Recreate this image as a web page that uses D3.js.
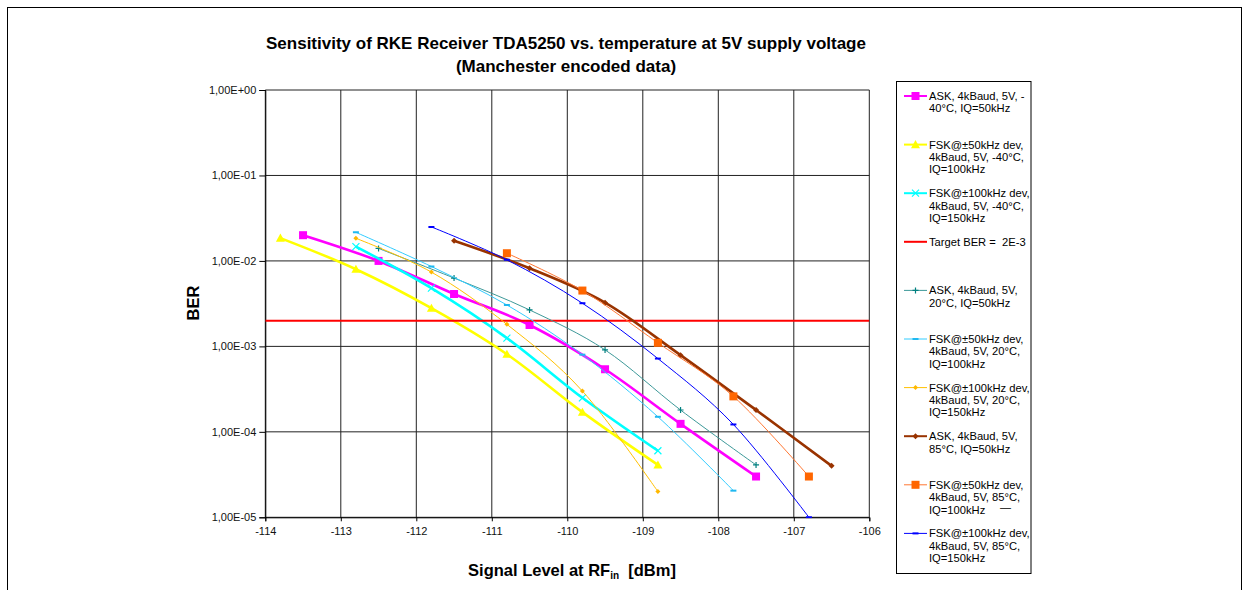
<!DOCTYPE html>
<html>
<head>
<meta charset="utf-8">
<script src="https://cdn.jsdelivr.net/npm/d3@7"></script>
<style>
  html, body { margin: 0; padding: 0; background: #fff; }
  svg { display: block; font-family: Arial, "Liberation Sans", sans-serif; }
  text { white-space: pre; }
</style>
</head>
<body>
<svg id="chart" width="1243" height="590"></svg>
<script>
// ---------- data ----------
const xTicks = [-114, -113, -112, -111, -110, -109, -108, -107, -106];
const yTicks = [1, 1e-1, 1e-2, 1e-3, 1e-4, 1e-5];
const yTickLabels = ["1,00E+00", "1,00E-01", "1,00E-02", "1,00E-03", "1,00E-04", "1,00E-05"];

const sigAskM40 = [-113.5, -112.5, -111.5, -110.5, -109.5, -108.5, -107.5];
const berAskM40 = [2.0e-2, 1.0e-2, 4.1e-3, 1.78e-3, 5.4e-4, 1.24e-4, 3.0e-5];

const sigFsk50M40 = [-113.8, -112.8, -111.8, -110.8, -109.8, -108.8];
const berFsk50M40 = [1.85e-2, 8.0e-3, 2.8e-3, 8.1e-4, 1.7e-4, 4.1e-5];

const sigFsk100M40 = [-112.8, -111.8, -110.8, -109.8, -108.8];
const berFsk100M40 = [1.47e-2, 4.8e-3, 1.25e-3, 2.5e-4, 6.0e-5];

const sigTarget = [-114, -106];
const berTarget = [2e-3, 2e-3];

const sigAsk20 = [-112.5, -111.5, -110.5, -109.5, -108.5, -107.5];
const berAsk20 = [1.4e-2, 6.3e-3, 2.67e-3, 9.1e-4, 1.8e-4, 4.1e-5];

const sigFsk50_20 = [-112.8, -111.8, -110.8, -109.8, -108.8, -107.8];
const berFsk50_20 = [2.16e-2, 8.6e-3, 3.05e-3, 8.0e-4, 1.5e-4, 2.05e-5];

const sigFsk100_20 = [-112.8, -111.8, -110.8, -109.8, -108.8];
const berFsk100_20 = [1.84e-2, 7.4e-3, 1.81e-3, 3.0e-4, 2.0e-5];

const sigAsk85 = [-111.5, -110.5, -109.5, -108.5, -107.5, -106.5];
const berAsk85 = [1.72e-2, 8.2e-3, 3.25e-3, 7.9e-4, 1.8e-4, 4.0e-5];

const sigFsk50_85 = [-110.8, -109.8, -108.8, -107.8, -106.8];
const berFsk50_85 = [1.23e-2, 4.5e-3, 1.1e-3, 2.6e-4, 3.0e-5];

const sigFsk100_85 = [-111.8, -110.8, -109.8, -108.8, -107.8, -106.8];
const berFsk100_85 = [2.5e-2, 1.03e-2, 3.2e-3, 7.2e-4, 1.22e-4, 1.0e-5];

const legendLabels = [
  ["ASK, 4kBaud, 5V, -", "40°C, IQ=50kHz"],
  ["FSK@±50kHz dev,", "4kBaud, 5V, -40°C,", "IQ=100kHz"],
  ["FSK@±100kHz dev,", "4kBaud, 5V, -40°C,", "IQ=150kHz"],
  ["Target BER =  2E-3"],
  ["ASK, 4kBaud, 5V,", "20°C, IQ=50kHz"],
  ["FSK@±50kHz dev,", "4kBaud, 5V, 20°C,", "IQ=100kHz"],
  ["FSK@±100kHz dev,", "4kBaud, 5V, 20°C,", "IQ=150kHz"],
  ["ASK, 4kBaud, 5V,", "85°C, IQ=50kHz"],
  ["FSK@±50kHz dev,", "4kBaud, 5V, 85°C,", "IQ=100kHz"],
  ["FSK@±100kHz dev,", "4kBaud, 5V, 85°C,", "IQ=150kHz"]
];

// ---------- styles ----------
const series = [
  { xs: sigAskM40,    ys: berAskM40,    color: "#FF00FF", mcolor: "#FF00FF", width: 2.6, marker: "square",   msize: 8 },
  { xs: sigFsk50M40,  ys: berFsk50M40,  color: "#FFFF00", mcolor: "#FFFF00", width: 2.6, marker: "triangle", msize: 9 },
  { xs: sigFsk100M40, ys: berFsk100M40, color: "#00FFFF", mcolor: "#00FFFF", width: 2.6, marker: "x",        msize: 7 },
  { xs: sigTarget,    ys: berTarget,    color: "#FF0000", mcolor: "#FF0000", width: 2,   marker: "none",     msize: 0 },
  { xs: sigAsk20,     ys: berAsk20,     color: "#3D9999", mcolor: "#008080", width: 1,   marker: "plus",     msize: 6 },
  { xs: sigFsk50_20,  ys: berFsk50_20,  color: "#33CCFF", mcolor: "#1FB8F0", width: 1,   marker: "dash",     msize: 6 },
  { xs: sigFsk100_20, ys: berFsk100_20, color: "#FFC000", mcolor: "#FFB800", width: 1,   marker: "diamond",  msize: 5 },
  { xs: sigAsk85,     ys: berAsk85,     color: "#993300", mcolor: "#993300", width: 2.6, marker: "diamond",  msize: 6 },
  { xs: sigFsk50_85,  ys: berFsk50_85,  color: "#FF7733", mcolor: "#FF6600", width: 1,   marker: "square",   msize: 8 },
  { xs: sigFsk100_85, ys: berFsk100_85, color: "#0000FF", mcolor: "#0000FF", width: 1,   marker: "dash",     msize: 6 }
];

// ---------- layout ----------
const plot = { left: 265.3, right: 869.3, top: 90, bottom: 517.3 };
const svg = d3.select("#chart");

// outer frame
svg.append("rect").attr("x", 7.5).attr("y", 7.5).attr("width", 1234).attr("height", 620)
  .attr("fill", "#fff").attr("stroke", "#000").attr("stroke-width", 1);

const x = d3.scaleLinear().domain([-114, -106]).range([plot.left, plot.right]);
const y = d3.scaleLog().domain([1e-5, 1]).range([plot.bottom, plot.top]);

// gridlines
const grid = svg.append("g");
grid.selectAll("line.v").data(xTicks).join("line")
  .attr("x1", d => x(d)).attr("x2", d => x(d))
  .attr("y1", plot.top).attr("y2", plot.bottom)
  .attr("stroke", "#222").attr("stroke-width", 1);
grid.selectAll("line.h").data(yTicks).join("line")
  .attr("x1", plot.left).attr("x2", plot.right)
  .attr("y1", d => y(d)).attr("y2", d => y(d))
  .attr("stroke", "#222").attr("stroke-width", 1);

// axes
const xAxis = d3.axisBottom(x).tickValues(xTicks).tickSize(4).tickPadding(6).tickFormat(d => String(d));
const gx = svg.append("g").attr("transform", `translate(0,${plot.bottom})`).call(xAxis);
const yAxis = d3.axisLeft(y).tickValues(yTicks).tickSize(6).tickPadding(3)
  .tickFormat((d, i) => yTickLabels[i]);
const gy = svg.append("g").attr("transform", `translate(${plot.left},0)`).call(yAxis);
[gx, gy].forEach(g => {
  g.select(".domain").attr("stroke", "#000");
  g.selectAll(".tick line").attr("stroke", "#000");
  g.selectAll(".tick text").attr("fill", "#111").style("font-size", "11px")
    .style("font-family", "Arial, 'Liberation Sans', sans-serif");
});

// clip
svg.append("clipPath").attr("id", "clip").append("rect")
  .attr("x", plot.left).attr("y", plot.top - 1)
  .attr("width", plot.right - plot.left).attr("height", plot.bottom - plot.top + 2);

// markers
function drawMarker(g, type, cx, cy, size, color) {
  const h = size / 2;
  if (type === "square") {
    g.append("rect").attr("x", cx - h).attr("y", cy - h).attr("width", size).attr("height", size).attr("fill", color);
  } else if (type === "triangle") {
    g.append("path").attr("d", `M${cx},${cy - h}L${cx + h},${cy + h * 0.8}L${cx - h},${cy + h * 0.8}Z`).attr("fill", color);
  } else if (type === "diamond") {
    g.append("path").attr("d", `M${cx},${cy - h}L${cx + h},${cy}L${cx},${cy + h}L${cx - h},${cy}Z`).attr("fill", color);
  } else if (type === "x") {
    g.append("path").attr("d", `M${cx - h},${cy - h}L${cx + h},${cy + h}M${cx + h},${cy - h}L${cx - h},${cy + h}`)
      .attr("stroke", color).attr("stroke-width", 1.2).attr("fill", "none");
  } else if (type === "plus") {
    g.append("path").attr("d", `M${cx - h},${cy}L${cx + h},${cy}M${cx},${cy - h}L${cx},${cy + h}`)
      .attr("stroke", color).attr("stroke-width", 1.2).attr("fill", "none");
  } else if (type === "dash") {
    g.append("path").attr("d", `M${cx - h},${cy}L${cx + h},${cy}`)
      .attr("stroke", color).attr("stroke-width", 2).attr("fill", "none");
  }
}

const line = d3.line().x(d => x(d[0])).y(d => y(d[1])).curve(d3.curveCatmullRom.alpha(0));
const straight = d3.line().x(d => x(d[0])).y(d => y(d[1]));
const plotG = svg.append("g").attr("clip-path", "url(#clip)");
series.forEach(s => {
  const pts = s.xs.map((v, i) => [v, s.ys[i]]);
  const g = plotG.append("g");
  g.append("path").attr("d", s.marker === "none" ? straight(pts) : line(pts))
    .attr("fill", "none").attr("stroke", s.color).attr("stroke-width", s.width).attr("stroke-linejoin", "round");
  pts.forEach(p => drawMarker(g, s.marker, x(p[0]), y(p[1]), s.msize, s.mcolor));
});

// titles
const title = svg.append("text").attr("text-anchor", "middle").attr("x", 566).attr("y", 49)
  .style("font-size", "17px").style("font-weight", "bold").attr("fill", "#000");
title.append("tspan").attr("x", 566).text("Sensitivity of RKE Receiver TDA5250 vs. temperature at 5V supply voltage");
title.append("tspan").attr("x", 566).attr("dy", 23).text("(Manchester encoded data)");

svg.append("text").attr("transform", "translate(199,303) rotate(-90)").attr("text-anchor", "middle")
  .style("font-size", "16.5px").style("font-weight", "bold").text("BER");

const xl = svg.append("text").attr("x", 572).attr("y", 576).attr("text-anchor", "middle")
  .style("font-size", "16.5px").style("font-weight", "bold");
xl.append("tspan").text("Signal Level at RF");
xl.append("tspan").attr("dy", 3).style("font-size", "10px").text("in");
xl.append("tspan").attr("dy", -3).text("  [dBm]");

// legend
const leg = svg.append("g");
leg.append("rect").attr("x", 896.5).attr("y", 81.5).attr("width", 134.5).attr("height", 492)
  .attr("fill", "#fff").attr("stroke", "#000").attr("stroke-width", 1);
legendLabels.forEach((lines, i) => {
  const s = series[i];
  const cy = 96 + i * 48.6;
  const g = leg.append("g");
  g.append("line").attr("x1", 904).attr("x2", 927).attr("y1", cy).attr("y2", cy)
    .attr("stroke", s.color).attr("stroke-width", Math.min(s.width, 2));
  drawMarker(g, s.marker, 915.5, cy, s.msize, s.mcolor);
  const t = g.append("text").attr("x", 929).attr("y", cy + 4).style("font-size", "11.2px").attr("fill", "#000");
  lines.forEach((l, j) => t.append("tspan").attr("x", 929).attr("dy", j === 0 ? 0 : 12.4).text(l));
  if (i === 8) {
    g.append("text").attr("x", 1000).attr("y", cy + 26).style("font-size", "11px").text("—");
  }
});
</script>
</body>
</html>
